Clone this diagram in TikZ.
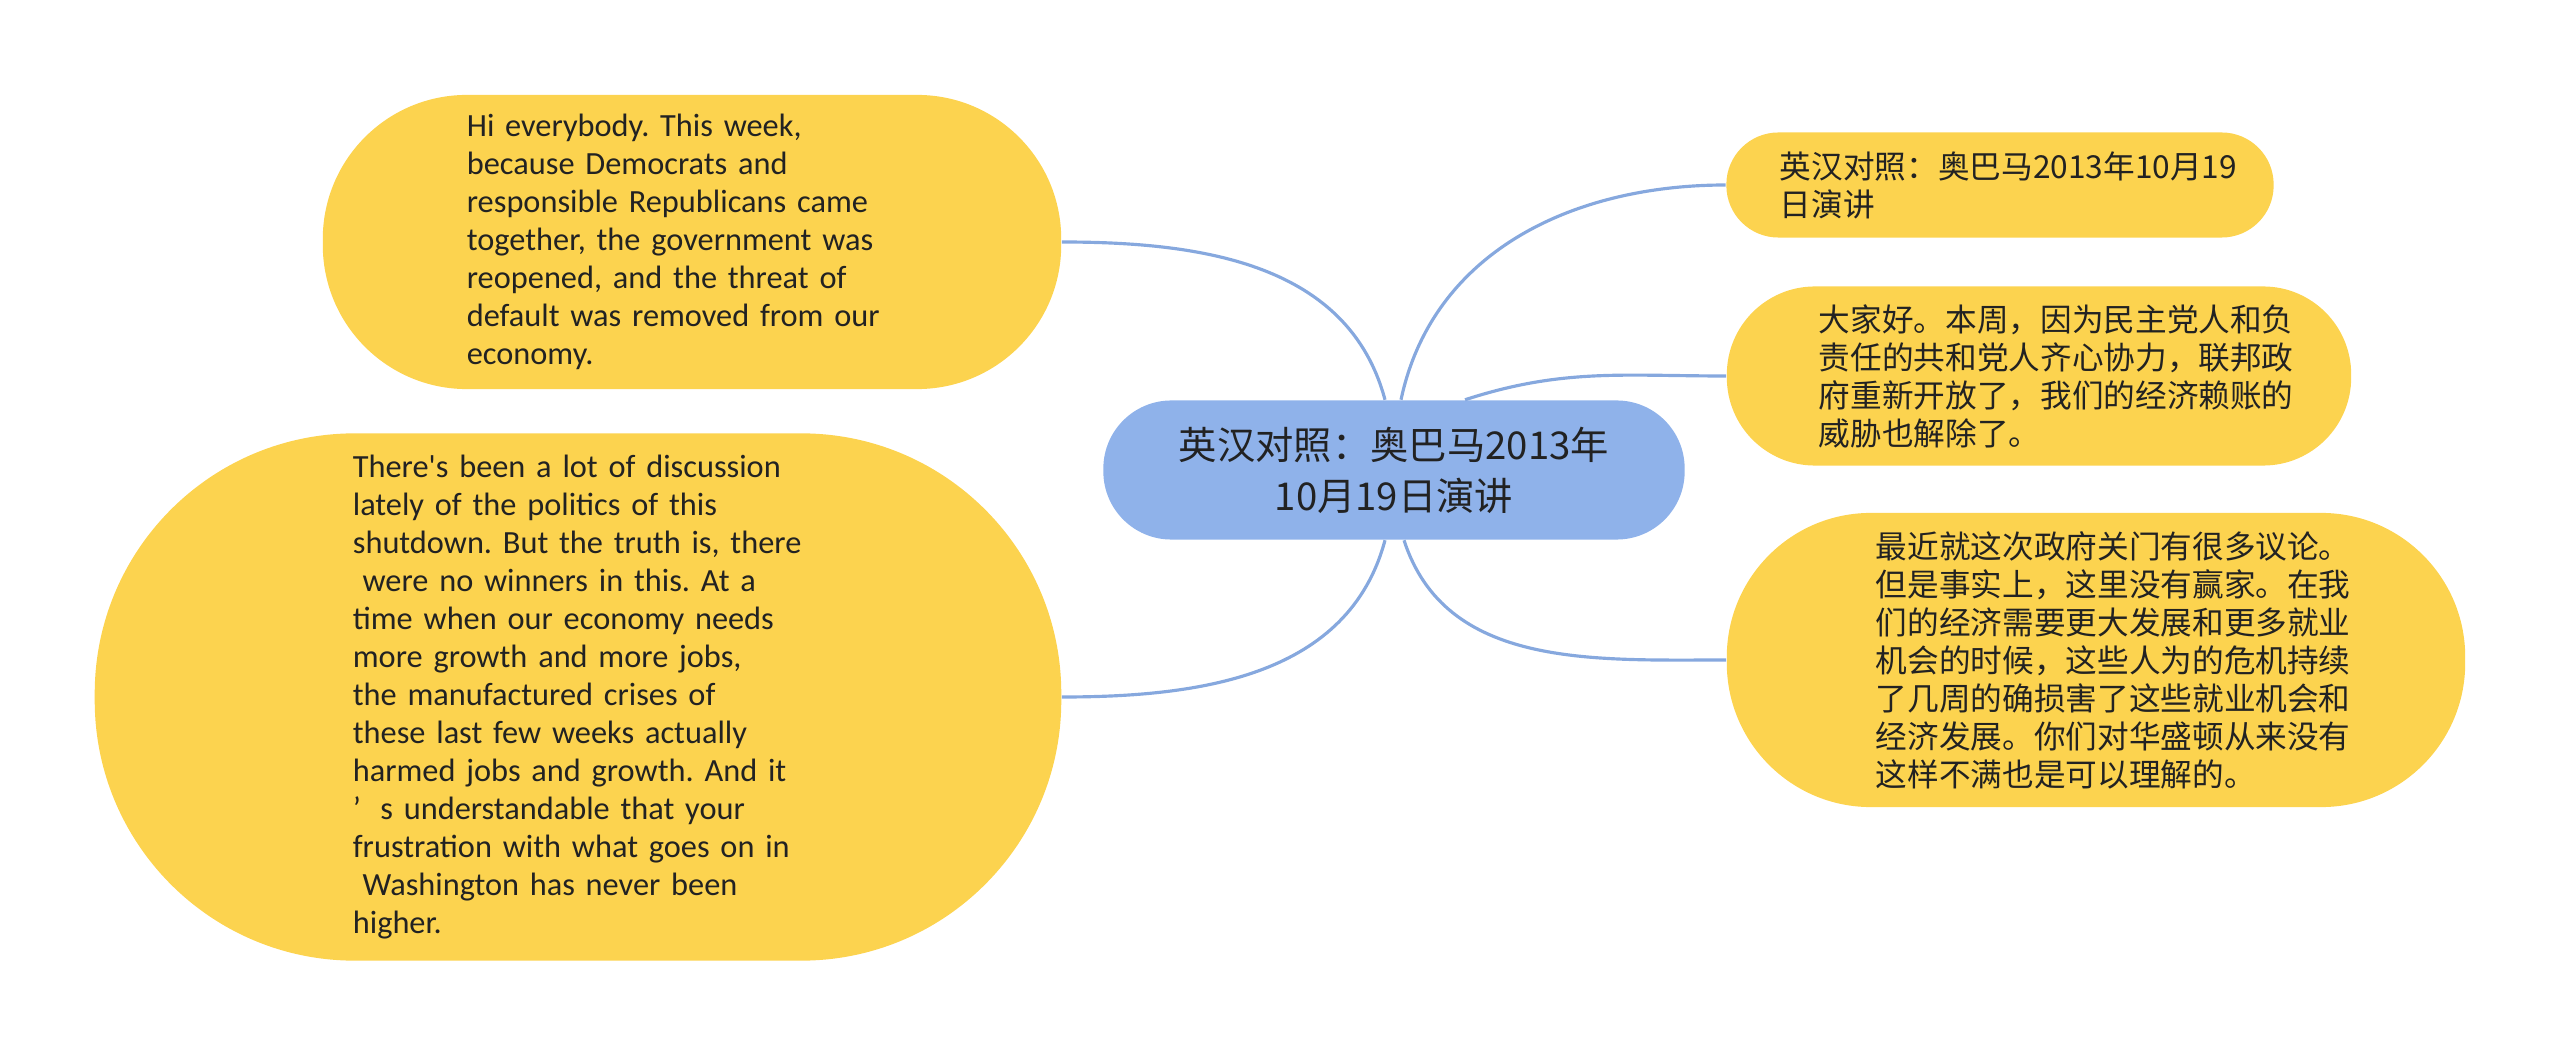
\documentclass[tikz,border=0pt]{standalone}
\usepackage{fontspec}
\usepackage{tikz}
\usetikzlibrary{positioning}
\usepackage{xcolor}
\newfontfamily\cjk{Noto Sans CJK SC}
\newfontfamily\latn{Carlito}
\frenchspacing
\definecolor{leafyellow}{HTML}{FCD34F}
\definecolor{rootblue}{HTML}{8FB2EA}
\definecolor{linkblue}{HTML}{86A8DE}
\definecolor{inkgray}{HTML}{222222}

\begin{document}
\begin{tikzpicture}[x=0.01cm, y=-0.01cm,
    leaf/.style={rectangle, fill=leafyellow, inner sep=0pt, text=inkgray,
        text width=4.4cm, align=left,
        font=\cjk\fontsize{9}{10.8}\selectfont},
    enleaf/.style={leaf, text width=4.5cm,
        font=\latn\frenchspacing\fontsize{9.2}{10.8}\selectfont},
    root/.style={rectangle, fill=rootblue, inner sep=0pt, text=inkgray,
        align=center, font=\cjk\fontsize{10.9}{14.5}\selectfont},
    link/.style={draw=linkblue, line width=0.9pt}]
    \useasboundingbox (0,0) rectangle (2560,1055);

    % Centre
    \node[root, minimum width=5.81cm, minimum height=1.39cm, rounded corners=0.68cm]
        (ctr) at (1394,470) {英汉对照：奥巴马2013年\\10月19日演讲};

    % Left side
    \node[enleaf, minimum width=7.38cm, minimum height=2.94cm, rounded corners=1.44cm]
        (tl) at (692,242) {Hi everybody. This week,\\
        because Democrats and\\
        responsible Republicans came\\
        together, the government was\\
        reopened, and the threat of\\
        default was removed from our\\
        economy.};
    \node[enleaf, minimum width=9.66cm, minimum height=5.27cm, rounded corners=2.6cm]
        (bl) at (578,697) {There's been a lot of discussion\\
        lately of the politics of this\\
        shutdown. But the truth is, there\\
        \hspace*{0.3em}were no winners in this. At a\\
        time when our economy needs\\
        more growth and more jobs,\\
        the manufactured crises of\\
        these last few weeks actually\\
        harmed jobs and growth. And it\\
        ’\hspace{0.6em}s understandable that your\\
        frustration with what goes on in\\
        \hspace*{0.3em}Washington has never been\\
        higher.};

    % Right side
    \node[leaf, minimum width=5.47cm, minimum height=1.05cm, rounded corners=0.52cm]
        (r1) at (2000,185) {英汉对照：奥巴马2013年10月19\\日演讲};
    \node[leaf, minimum width=6.24cm, minimum height=1.79cm, rounded corners=0.88cm]
        (r2) at (2039,376) {大家好。本周，因为民主党人和负\\
        责任的共和党人齐心协力，联邦政\\
        府重新开放了，我们的经济赖账的\\
        威胁也解除了。};
    \node[leaf, minimum width=7.38cm, minimum height=2.94cm, rounded corners=1.44cm]
        (r3) at (2096,660) {最近就这次政府关门有很多议论。\\
        但是事实上，这里没有赢家。在我\\
        们的经济需要更大发展和更多就业\\
        机会的时候，这些人为的危机持续\\
        了几周的确损害了这些就业机会和\\
        经济发展。你们对华盛顿从来没有\\
        这样不满也是可以理解的。};

    % Links
    \draw[link] (tl.east) to[out=0, in=105] ([xshift=-0.09cm]ctr.north);
    \draw[link] (bl.east) to[out=0, in=-105] ([xshift=-0.09cm]ctr.south);
    \draw[link] ([xshift=0.07cm]ctr.north) to[out=78, in=180] (r1.west);
    \draw[link] ([xshift=0.71cm]ctr.north) to[out=18, in=180] (r2.west);
    \draw[link] ([xshift=0.1cm]ctr.south) to[out=-72, in=180] (r3.west);
\end{tikzpicture}
\end{document}
